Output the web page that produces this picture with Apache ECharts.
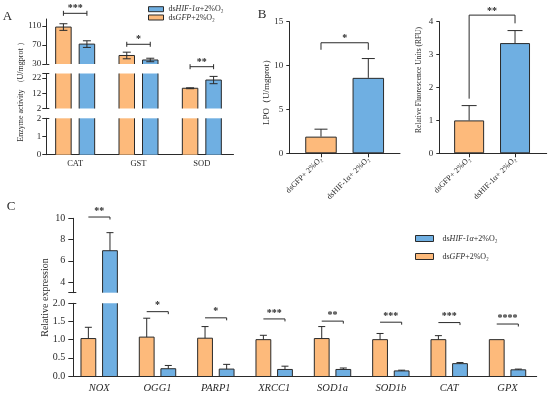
<!DOCTYPE html>
<html><head><meta charset="utf-8">
<script src="https://cdn.jsdelivr.net/npm/echarts@6/dist/echarts.min.js"></script>
<style>html,body{margin:0;padding:0;background:#fff}#c{width:550px;height:397px}</style>
</head><body><div id="c"></div>
<script>
// ---------- data ----------
// Panel A : enzyme activity (broken axis, three segments)
const catA = ['CAT', 'GST', 'SOD'];
const gfpA = [108, 48, 15.3];
const gfpAErr = [7, 7, 0.3];
const hifA = [72, 38.5, 20.7];
const hifAErr = [7, 3.7, 2.4];
const sigA = ['***', '*', '**'];
const sigAY = [137, 71.6, 24.3];           // bracket level, in units of the top segment
const segAMin = [30, 2, 0];
const segAMax = [125, 25, 2];
const segATicks = [[30, 70, 110], [2, 12, 22, 25], [0, 1, 2]];
const segALabels = [[30, 70, 110], [2, 12, 22], [0, 1, 2]];
const segABreaks = [[30], [2, 25], [2]];

// Panel B
const catB = ['dsGFP+ 2%O\u2082', 'dsHIF-1\u03b1+ 2%O\u2082'];
const lpo = [1.9, 8.6];
const lpoErr = [0.85, 2.2];
const lpoTicks = [0, 5, 10, 15];
const rfu = [1.0, 3.35];
const rfuErr = [0.45, 0.38];
const rfuTicks = [0, 1, 2, 3, 4];
const sigB = ['*', '**'];
const bracketLPO = [12.6, 11.8, 11.8];     // line level, left end, right end
const bracketRFU = [4.2, 1.66, 3.95];

// Panel C : relative expression (broken axis, two segments)
const genes = ['NOX', 'OGG1', 'PARP1', 'XRCC1', 'SOD1a', 'SOD1b', 'CAT', 'GPX'];
const gfpC = [1.03, 1.07, 1.04, 1.0, 1.03, 1.0, 1.0, 1.0];
const gfpCErr = [0.31, 0.52, 0.32, 0.12, 0.33, 0.17, 0.11, 0];
const hifC = [6.95, 0.2, 0.19, 0.18, 0.18, 0.14, 0.34, 0.17];
const hifCErr = [1.7, 0.09, 0.13, 0.09, 0.04, 0.02, 0.03, 0.02];
const sigC = ['**', '*', '*', '***', '**', '***', '***', '****'];
const sigCY = [10.12, 1.77, 1.6, 1.57, 1.51, 1.48, 1.47, 1.43];
const segCMin = [3, 0];
const segCMax = [10, 2];
const segCTicks = [[3, 4, 6, 8, 10], [0, 0.5, 1, 1.5, 2]];
const segCLabels = [[4, 6, 8, 10], [0, 0.5, 1, 1.5, 2]];
const segCBreaks = [[3], [2]];

const nameHIF = 'dsHIF-1\u03b1+2%O\u2082';
const nameGFP = 'dsGFP+2%O\u2082';

// ---------- style ----------
const ORANGE = '#FDBA7B', BLUE = '#6FAFE2', DARK = '#2a2a2a', TXT = '#2a2a2a';
const FONT = 'Liberation Serif';

const grids = [], xAxis = [], yAxis = [], series = [];
function addGrid(g) {
  grids.push(Object.assign({ containLabel: false, outerBoundsMode: 'none' }, g));
  return grids.length - 1;
}
function addY(gi, min, max, ticks, labels, o) {
  yAxis.push({
    type: 'value', gridIndex: gi, min, max, position: 'left', offset: o.offset || 0,
    axisLine: { show: true, onZero: false, lineStyle: { color: DARK, width: 1 } },
    axisTick: { show: true, length: o.tickLen, customValues: ticks, lineStyle: { color: DARK, width: 1 } },
    axisLabel: { show: true, customValues: labels, margin: o.margin, fontSize: o.fs, fontFamily: FONT, color: TXT, formatter: o.fmt },
    splitLine: { show: false }
  });
  return yAxis.length - 1;
}
function addBreakY(gi, min, max, vals, offset) {
  yAxis.push({
    type: 'value', gridIndex: gi, min, max, position: 'left', offset,
    axisLine: { show: false, onZero: false },
    axisTick: { show: true, inside: true, length: 3, customValues: vals, lineStyle: { color: DARK, width: 1 } },
    axisLabel: { show: false }, splitLine: { show: false }
  });
}
function line(x1, y1, x2, y2) {
  return { type: 'line', shape: { x1, y1, x2, y2 }, style: { stroke: DARK, lineWidth: 1 } };
}
function errRender(dx, capW, both) {
  return function (params, api) {
    const i = api.value(0), m = api.value(1), e = api.value(2);
    if (!(e > 0)) return null;
    const p = api.coord([i, m]);
    const x = p[0] + dx;
    const top = api.coord([i, m + e])[1];
    const bot = both ? api.coord([i, m - e])[1] : p[1];
    const ch = [line(x, top, x, bot), line(x - capW / 2, top, x + capW / 2, top)];
    if (both) ch.push(line(x - capW / 2, bot, x + capW / 2, bot));
    return { type: 'group', children: ch };
  };
}
// outline (left, right and top edges) of a bar inside one axis segment, no edge at the break
function outlineRender(dx, bw, segMin, segMax) {
  return function (params, api) {
    const i = api.value(0), v = api.value(1);
    if (v <= segMin) return null;
    const t = api.coord([i, Math.min(v, segMax)]);
    const b = api.coord([i, segMin]);
    const x0 = t[0] + dx - bw / 2, x1 = t[0] + dx + bw / 2;
    const ch = [line(x0, b[1], x0, t[1]), line(x1, b[1], x1, t[1])];
    if (v <= segMax) ch.push(line(x0, t[1], x1, t[1]));
    return { type: 'group', children: ch };
  };
}
function starText(x, y, t) {
  return { type: 'text', x, y, style: { text: t, fontSize: 10, fontWeight: 'bold', fontFamily: FONT, fill: DARK, align: 'center', verticalAlign: 'middle' } };
}
function errData(means, errs, lo, hi) {
  return means.map((m, i) => [i, m, errs[i]]).filter(d => d[1] >= lo && d[1] <= hi);
}
function barStyle(c) { return { color: c, borderColor: DARK, borderWidth: 1 }; }
function fillStyle(c) { return { color: c, borderWidth: 0 }; }

function addBarPair(xi, yi, gfp, hif, gfpErr, hifErr, lo, hi, bw, gap, d, capW, both) {
  series.push({ type: 'bar', name: nameGFP, xAxisIndex: xi, yAxisIndex: yi, data: gfp, barWidth: bw, barGap: gap, itemStyle: fillStyle(ORANGE), clip: true, silent: true, z: 2 });
  series.push({ type: 'bar', name: nameHIF, xAxisIndex: xi, yAxisIndex: yi, data: hif, barWidth: bw, barGap: gap, itemStyle: fillStyle(BLUE), clip: true, silent: true, z: 2 });
  series.push({ type: 'custom', xAxisIndex: xi, yAxisIndex: yi, data: gfp.map((v, i) => [i, v]), encode: { x: 0, y: 1 }, renderItem: outlineRender(-d, bw, lo, hi), z: 3, silent: true });
  series.push({ type: 'custom', xAxisIndex: xi, yAxisIndex: yi, data: hif.map((v, i) => [i, v]), encode: { x: 0, y: 1 }, renderItem: outlineRender(d, bw, lo, hi), z: 3, silent: true });
  series.push({ type: 'custom', xAxisIndex: xi, yAxisIndex: yi, data: errData(gfp, gfpErr, lo, hi), encode: { x: 0, y: 1 }, renderItem: errRender(-d, capW, both), z: 3, silent: true });
  series.push({ type: 'custom', xAxisIndex: xi, yAxisIndex: yi, data: errData(hif, hifErr, lo, hi), encode: { x: 0, y: 1 }, renderItem: errRender(d, capW, both), z: 3, silent: true });
}

// ---------- Panel A ----------
const A_LEFT = 43.5, A_W = 190, A_YOFF = -2.8, A_BW = 15.5, A_GAP = '52%';
const A_D = (15.5 + 8) / 2;
const gAPos = [{ top: 19, height: 45 }, { top: 73.5, height: 35 }, { top: 118.3, height: 36.4 }];
for (let k = 0; k < 3; k++) {
  const gi = addGrid({ left: A_LEFT, width: A_W, top: gAPos[k].top, height: gAPos[k].height });
  xAxis.push({
    type: 'category', gridIndex: gi, data: catA, show: k === 2,
    axisLine: { onZero: false, lineStyle: { color: DARK, width: 1 } },
    axisTick: { alignWithLabel: true, length: 4, lineStyle: { color: DARK } },
    axisLabel: { margin: 5, fontSize: 8.5, fontFamily: FONT, color: TXT, interval: 0 }
  });
  const xi = xAxis.length - 1;
  const yi = addY(gi, segAMin[k], segAMax[k], segATicks[k], segALabels[k], { offset: A_YOFF, tickLen: 4, margin: 5, fs: 9 });
  addBreakY(gi, segAMin[k], segAMax[k], segABreaks[k], A_YOFF);
  addBarPair(xi, yi, gfpA, hifA, gfpAErr, hifAErr, segAMin[k], segAMax[k], A_BW, A_GAP, A_D, 8, true);
  if (k === 0) {
    series.push({
      type: 'custom', xAxisIndex: xi, yAxisIndex: yi, clip: false, silent: true, z: 4,
      data: sigAY.map((y, i) => [i, y]), encode: { x: 0, y: 1 },
      renderItem: function (params, api) {
        const i = api.value(0);
        const p = api.coord([i, api.value(1)]);
        const x0 = p[0] - A_D, x1 = p[0] + A_D, y = p[1];
        return { type: 'group', children: [line(x0, y, x1, y), line(x0, y - 2.5, x0, y + 2.5), line(x1, y - 2.5, x1, y + 2.5), starText(p[0], y - 4.5, sigA[i])] };
      }
    });
  }
}

// ---------- Panel B ----------
function panelB(left, width, xmin, xmax, ymax, vals, errs, ticks, bw, capW, bracket, sig) {
  const gi = addGrid({ left, width, top: 21.7, height: 131.6 });
  xAxis.push({
    type: 'value', gridIndex: gi, min: xmin, max: xmax,
    axisLine: { show: true, onZero: false, lineStyle: { color: DARK, width: 1 } },
    axisTick: { show: true, length: 4, customValues: [0, 1], lineStyle: { color: DARK } },
    axisLabel: { show: true, customValues: [0, 1], rotate: 45, margin: 5, fontSize: 8, fontFamily: FONT, color: TXT, formatter: v => catB[Math.round(v)] },
    splitLine: { show: false }
  });
  const xi = xAxis.length - 1;
  const yi = addY(gi, 0, ymax, ticks, ticks, { offset: 0, tickLen: 3, margin: 6, fs: 9 });
  series.push({
    type: 'bar', name: 'B' + gi, xAxisIndex: xi, yAxisIndex: yi, barWidth: bw, silent: true, z: 2,
    data: vals.map((v, i) => ({ value: [i, v], itemStyle: barStyle(i === 0 ? ORANGE : BLUE) }))
  });
  series.push({ type: 'custom', xAxisIndex: xi, yAxisIndex: yi, data: errData(vals, errs, 0, ymax), encode: { x: 0, y: 1 }, renderItem: errRender(0, capW, false), z: 3, silent: true });
  series.push({
    type: 'custom', xAxisIndex: xi, yAxisIndex: yi, clip: false, silent: true, z: 4,
    data: [[0, bracket[0], bracket[1], bracket[2]]], encode: { x: 0, y: 1 },
    renderItem: function (params, api) {
      const a = api.coord([0, api.value(1)]), b = api.coord([1, api.value(1)]);
      const la = api.coord([0, api.value(2)]), rb = api.coord([1, api.value(3)]);
      return {
        type: 'group', children: [
          { type: 'polyline', shape: { points: [la, a, b, rb] }, style: { stroke: DARK, lineWidth: 1, fill: null } },
          starText((a[0] + b[0]) / 2, a[1] - 4, sig)
        ]
      };
    }
  });
}
panelB(289.3, 110.7, -0.67, 1.67, 15, lpo, lpoErr, lpoTicks, 31.5, 13, bracketLPO, sigB[0]);
panelB(439.3, 107.4, -0.65, 1.69, 4, rfu, rfuErr, rfuTicks, 30, 15, bracketRFU, sigB[1]);

// ---------- Panel C ----------
const C_LEFT = 70, C_W = 466.7, C_YOFF = -3.3, C_BW = 14.8, C_GAP = '46%';
const C_D = (14.8 + 6.8) / 2;
const gCPos = [{ top: 218.3, height: 74.4 }, { top: 303.3, height: 72.7 }];
for (let k = 0; k < 2; k++) {
  const gi = addGrid({ left: C_LEFT, width: C_W, top: gCPos[k].top, height: gCPos[k].height });
  xAxis.push({
    type: 'category', gridIndex: gi, data: genes, show: k === 1,
    axisLine: { onZero: false, lineStyle: { color: DARK, width: 1 } },
    axisTick: { alignWithLabel: true, length: 4, lineStyle: { color: DARK } },
    axisLabel: { margin: 7, fontSize: 10.5, fontStyle: 'italic', fontFamily: FONT, color: TXT, interval: 0 }
  });
  const xi = xAxis.length - 1;
  const yi = addY(gi, segCMin[k], segCMax[k], segCTicks[k], segCLabels[k], { offset: C_YOFF, tickLen: 5, margin: 8, fs: 10, fmt: k === 1 ? (v => v.toFixed(1)) : undefined });
  addBreakY(gi, segCMin[k], segCMax[k], segCBreaks[k], C_YOFF);
  addBarPair(xi, yi, gfpC, hifC, gfpCErr, hifCErr, segCMin[k], segCMax[k], C_BW, C_GAP, C_D, 7, false);
  series.push({
    type: 'custom', xAxisIndex: xi, yAxisIndex: yi, clip: false, silent: true, z: 4,
    data: sigCY.map((y, i) => [i, y]).filter(d => (k === 0) === (d[1] > segCMax[1])), encode: { x: 0, y: 1 },
    renderItem: function (params, api) {
      const i = api.value(0);
      const p = api.coord([i, api.value(1)]);
      const x0 = p[0] - C_D, x1 = p[0] + C_D, y = p[1];
      return { type: 'group', children: [line(x0, y, x1, y), line(x1, y, x1, y + 2.5), starText(p[0], y - 6, sigC[i])] };
    }
  });
}

// ---------- legends ----------
function legFmt(n) { return n === nameHIF ? '{n|ds}{i|HIF-1\u03b1}{n|+2%O\u2082}' : '{n|ds}{i|GFP}{n|+2%O\u2082}'; }
const legRich = () => ({
  n: { fontFamily: FONT, fontSize: 8, color: TXT, lineHeight: 11 },
  i: { fontFamily: FONT, fontSize: 8, color: TXT, fontStyle: 'italic', lineHeight: 11 }
});
const legItemStyle = { borderColor: DARK, borderWidth: 1 };
const legend = [
  {
    data: [nameHIF, nameGFP], orient: 'vertical', left: 148, top: 5.2, padding: 0, itemGap: 0.3,
    itemWidth: 15, itemHeight: 5, icon: 'rect', selectedMode: false, formatter: legFmt, itemStyle: legItemStyle,
    textStyle: { fontFamily: FONT, fontSize: 8, color: TXT, rich: legRich() }
  },
  {
    data: [nameHIF, nameGFP], orient: 'vertical', left: 415, top: 234.5, padding: 0, itemGap: 10,
    itemWidth: 18, itemHeight: 6, icon: 'rect', selectedMode: false, formatter: n => '  ' + legFmt(n), itemStyle: legItemStyle,
    textStyle: { fontFamily: FONT, fontSize: 8, color: TXT, rich: legRich() }
  }
];

// ---------- texts ----------
function gText(t, x, y, fs, rot) {
  return { type: 'text', x, y, rotation: rot || 0, silent: true, style: { text: t, fontSize: fs, fontFamily: FONT, fill: TXT, align: 'center', verticalAlign: 'middle' } };
}
const graphic = [
  gText('A', 7.5, 17, 13), gText('B', 262, 15, 13), gText('C', 11, 207, 13),
  gText('Enzyme activity \uff08U/mgprot \uff09', 21, 90, 8, Math.PI / 2),
  gText('LPO\uff08U/mgprot\uff09', 267, 90, 9, Math.PI / 2),
  gText('Relative Fluorescence Units (RFU)', 419, 80, 7.5, Math.PI / 2),
  gText('Relative expression', 45, 297.5, 10, Math.PI / 2)
];

const chart = echarts.init(document.getElementById('c'), null, { renderer: 'canvas' });
chart.setOption({ animation: false, backgroundColor: '#fff', grid: grids, xAxis, yAxis, series, legend, graphic });
</script>
</body></html>
